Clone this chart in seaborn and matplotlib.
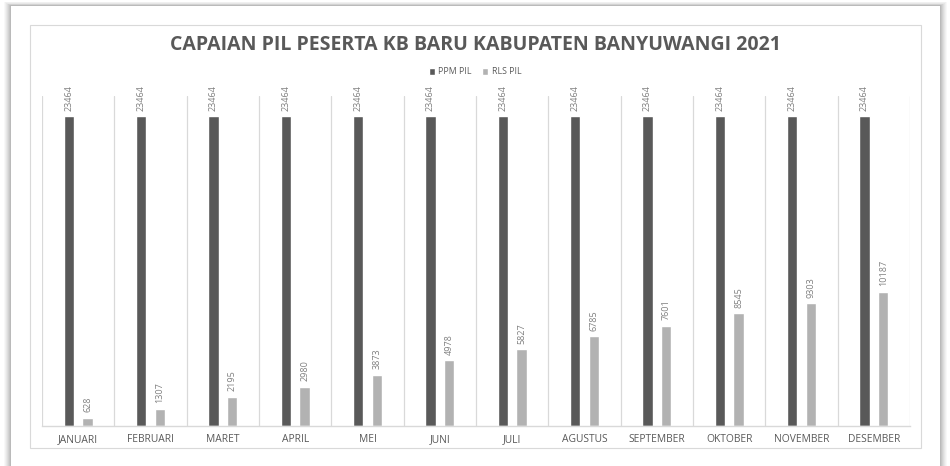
import matplotlib
matplotlib.use("Agg")
import matplotlib.pyplot as plt
import seaborn as sns
import pandas as pd
from matplotlib.patches import Rectangle
from matplotlib.ticker import FixedLocator

months = ["JANUARI", "FEBRUARI", "MARET", "APRIL", "MEI", "JUNI", "JULI",
          "AGUSTUS", "SEPTEMBER", "OKTOBER", "NOVEMBER", "DESEMBER"]
ppm_pil = [23464] * 12
rls_pil = [628, 1307, 2195, 2980, 3873, 4978, 5827, 6785, 7601, 8545, 9303, 10187]
series_names = ["PPM PIL", "RLS PIL"]
title = "CAPAIAN PIL PESERTA KB BARU KABUPATEN BANYUWANGI 2021"

df = pd.DataFrame({
    "bulan": months * 2,
    "nilai": ppm_pil + rls_pil,
    "seri": [series_names[0]] * 12 + [series_names[1]] * 12,
})

sns.set_theme(style="white")
plt.rcParams['font.family'] = ['Open Sans', 'DejaVu Sans']

W, H = 950, 466
fig = plt.figure(figsize=(W / 100, H / 100), dpi=100, facecolor="white")

def fx(px):
    return px / W

def fy(py):
    return 1 - py / H

# card shadow
for i, a in enumerate([0.05, 0.06, 0.07, 0.09, 0.11, 0.13, 0.15]):
    d = 7 - i
    fig.patches.append(Rectangle((fx(11 - d), 0), fx(929 + 2 * d), fy(6 - d * 0.6),
                                 transform=fig.transFigure, facecolor="#7a7a7a",
                                 alpha=a, edgecolor="none", zorder=0))
fig.patches.append(Rectangle((fx(11), 0), fx(929), fy(6), transform=fig.transFigure,
                             facecolor="white", edgecolor="none", zorder=1))
# inner chart border
fig.patches.append(Rectangle((fx(30), fy(448)), fx(891), (448 - 25) / H,
                             transform=fig.transFigure, facecolor="none",
                             edgecolor="#d9d9d9", linewidth=0.8, zorder=2))

ax = fig.add_axes([fx(42), fy(426), fx(910 - 42), (426 - 96) / H])
ax.set_facecolor("none")
ax.set_zorder(3)

sns.barplot(data=df, x="bulan", y="nilai", hue="seri", order=months,
            hue_order=series_names, palette=["#595959", "#b2b2b2"],
            width=0.52, gap=0.46, saturation=1, ax=ax, legend=True)

for cont in ax.containers:
    ax.bar_label(cont, labels=[f"{int(v)}" for v in cont.datavalues],
                 rotation=90, padding=4, fontsize=6.5, color="#7f7f7f")

ax.set_ylim(0, 25000)
ax.set_xlim(-0.5, 11.5)
ax.set_yticks([])
ax.set_ylabel("")
ax.set_xlabel("")
ax.xaxis.set_minor_locator(FixedLocator([i - 0.5 for i in range(13)]))
ax.grid(True, which="minor", axis="x", color="#d9d9d9", linewidth=0.9)
ax.grid(False, which="major")
ax.tick_params(axis="x", which="both", length=0, pad=6, labelsize=7.4,
               labelcolor="#595959")
for s in ["top", "right", "left"]:
    ax.spines[s].set_visible(False)
ax.spines["bottom"].set_color("#d9d9d9")
ax.spines["bottom"].set_linewidth(1.0)

leg = ax.legend(loc="center", bbox_to_anchor=(0.5, fy(72)), bbox_transform=fig.transFigure,
                ncol=2, frameon=False, fontsize=6.3, handlelength=0.7, handleheight=0.7,
                handletextpad=0.4, columnspacing=1.2)
for t in leg.get_texts():
    t.set_color("#595959")

fig.text(0.5, fy(45), title, ha="center", va="center", fontsize=14,
         fontweight="bold", color="#595959", zorder=5)

fig.savefig("out.png", dpi=100, facecolor="white")
